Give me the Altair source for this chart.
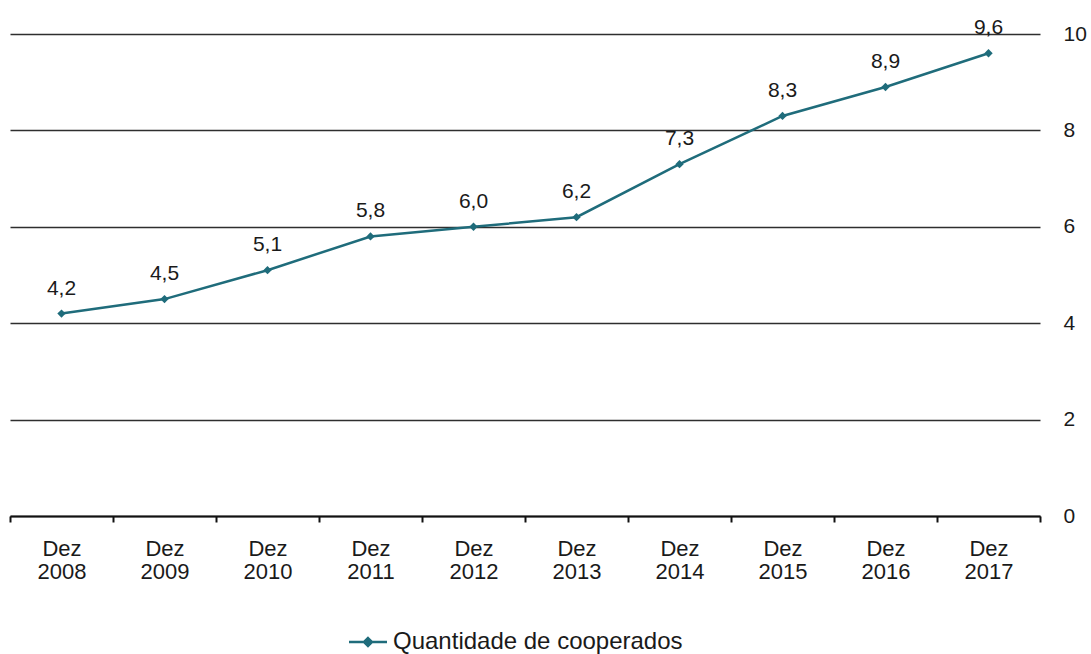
import altair as alt
import pandas as pd

periods = ["Dez 2008", "Dez 2009", "Dez 2010", "Dez 2011", "Dez 2012",
           "Dez 2013", "Dez 2014", "Dez 2015", "Dez 2016", "Dez 2017"]
values = [4.2, 4.5, 5.1, 5.8, 6.0, 6.2, 7.3, 8.3, 8.9, 9.6]
series_name = "Quantidade de cooperados"
y_ticks = [0, 2, 4, 6, 8, 10]

TEAL = "#1f6c7b"
FONT = "Liberation Sans"
TXT = "#1a1a1a"

df = pd.DataFrame({"periodo": periods, "valor": values, "serie": series_name})

base = alt.Chart(df).encode(
    x=alt.X("periodo:N", sort=periods, title=None,
            scale=alt.Scale(paddingInner=0, paddingOuter=0),
            axis=alt.Axis(labelAngle=0, labelExpr="split(datum.label, ' ')",
                          labelFontSize=22, labelFont=FONT, labelColor=TXT,
                          labelLineHeight=23, labelPadding=33,
                          labelBaseline="alphabetic",
                          tickBand="extent", tickSize=6, tickColor="#111",
                          tickWidth=2, domainColor="#111", domainWidth=2,
                          grid=False)),
    y=alt.Y("valor:Q", title=None,
            scale=alt.Scale(domain=[0, 10], nice=False),
            axis=alt.Axis(orient="right", values=y_ticks, domain=False,
                          ticks=False, labelPadding=23, labelFontSize=21,
                          labelFont=FONT, labelColor=TXT, grid=True,
                          gridColor="#2e2e2e", gridWidth=1.5)),
)

line = base.mark_line(strokeWidth=2.5,
                      point=alt.OverlayMarkDef(shape="diamond", size=70,
                                               filled=True, color=TEAL)).encode(
    color=alt.Color("serie:N", title=None,
                    scale=alt.Scale(range=[TEAL]),
                    legend=alt.Legend(orient="none", legendX=346, legendY=596,
                                      symbolType="M-2,0H2M0,-0.42L0.42,0L0,0.42L-0.42,0Z",
                                      symbolSize=361, symbolStrokeWidth=2.5,
                                      symbolFillColor=TEAL, symbolStrokeColor=TEAL,
                                      labelFontSize=24, labelFont=FONT, labelColor=TXT,
                                      labelOffset=13, labelLimit=500))
)

labels = base.mark_text(baseline="alphabetic", dy=-19, fontSize=21, font=FONT,
                        color=TXT).transform_calculate(
    rotulo="replace(format(datum.valor, '.1f'), '.', ',')"
).encode(text="rotulo:N")

chart = (line + labels).properties(
    width=1030, height=482,
    autosize=alt.AutoSizeParams(type="none"),
    padding={"left": 10, "top": 34, "right": 51, "bottom": 138},
    background="white",
).configure_view(stroke=None)

chart.save("out.html", embed_options={"renderer": "svg", "actions": False})
